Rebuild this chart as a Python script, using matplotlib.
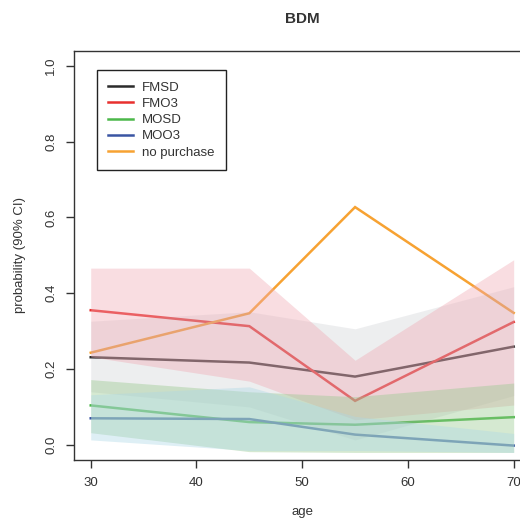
import matplotlib
matplotlib.use("Agg")
import matplotlib.pyplot as plt

plt.rcParams['font.family'] = ['Liberation Sans', 'DejaVu Sans']

# ---- data ----
age = [30, 45, 55, 70]
series = ["FMSD", "FMO3", "MOSD", "MOO3", "no purchase"]

fmsd = [0.231, 0.217, 0.180, 0.259]
fmsd_lo = [0.140, 0.100, 0.013, 0.130]
fmsd_hi = [0.326, 0.351, 0.306, 0.417]

fmo3 = [0.355, 0.313, 0.116, 0.324]
fmo3_lo = [0.232, 0.168, 0.066, 0.105]
fmo3_hi = [0.466, 0.466, 0.223, 0.488]

mosd = [0.104, 0.060, 0.053, 0.073]
mosd_lo = [0.032, -0.018, -0.020, -0.020]
mosd_hi = [0.172, 0.140, 0.127, 0.163]

moo3 = [0.070, 0.068, 0.027, -0.002]
moo3_lo = [0.013, -0.015, -0.015, -0.020]
moo3_hi = [0.132, 0.153, 0.075, 0.030]

nopurch = [0.243, 0.347, 0.627, 0.348]

xticks = [30, 40, 50, 60, 70]
yticks = [0.0, 0.2, 0.4, 0.6, 0.8, 1.0]

line_colors = ["#2b2b2b", "#e8302e", "#4cb84a", "#3a55a3", "#f7a232"]
band_colors = ["#8a8f99", "#f0aab4", "#96c88c", "#add8e6"]
band_alpha = [0.15, 0.40, 0.40, 0.40]

W, H = 520, 522
fig = plt.figure(figsize=(W / 100, H / 100), dpi=100)
left, right, top, bottom = 73.8, 530.6, 50.5, 460.0
ax = fig.add_axes([left / W, 1 - bottom / H, (right - left) / W, (bottom - top) / H])

means = [fmsd, fmo3, mosd, moo3, nopurch]
los = [fmsd_lo, fmo3_lo, mosd_lo, moo3_lo]
his = [fmsd_hi, fmo3_hi, mosd_hi, moo3_hi]

for name, m, c in zip(series, means, line_colors):
    ax.plot(age, m, color=c, lw=1.8, label=name, zorder=2, solid_joinstyle='miter')

for lo, hi, c, a in zip(los, his, band_colors, band_alpha):
    ax.fill_between(age, lo, hi, color=c, alpha=a, lw=0, zorder=3)

ax.set_xlim(28.4, 71.6)
ax.set_ylim(-0.04, 1.04)
ax.set_xticks(xticks)
ax.set_xticklabels([str(v) for v in xticks])
ax.set_yticks(yticks)
ax.set_yticklabels([f"{v:.1f}" for v in yticks], rotation=90, va='center')

dark = "#333333"
for s in ax.spines.values():
    s.set_color(dark)
    s.set_linewidth(1.0)
ax.tick_params(axis='both', direction='out', length=6, width=1.0, color=dark,
               labelcolor=dark, labelsize=9.5)
ax.tick_params(axis='x', pad=6)
ax.tick_params(axis='y', pad=6)

fig.text(302 / W, 1 - 19 / H, "BDM", ha='center', va='center', fontsize=11,
         fontweight='bold', color=dark)
fig.text(302 / W, 1 - 512 / H, "age", ha='center', va='center', fontsize=9.5, color=dark)
fig.text(20 / W, 1 - 255 / H, "probability (90% CI)", ha='center', va='center',
         fontsize=9.5, rotation=90, color=dark)

leg = ax.legend(loc='upper left', bbox_to_anchor=(96.7 / W, 1 - 70.3 / H),
                bbox_transform=fig.transFigure, borderaxespad=0, fancybox=False,
                framealpha=1, edgecolor='#222222', fontsize=9.5, handlelength=1.9,
                handletextpad=0.7, labelspacing=0.3, borderpad=0.85)
leg.get_frame().set_linewidth(1.0)
for t in leg.get_texts():
    t.set_color(dark)

fig.savefig("out.png", dpi=100)
